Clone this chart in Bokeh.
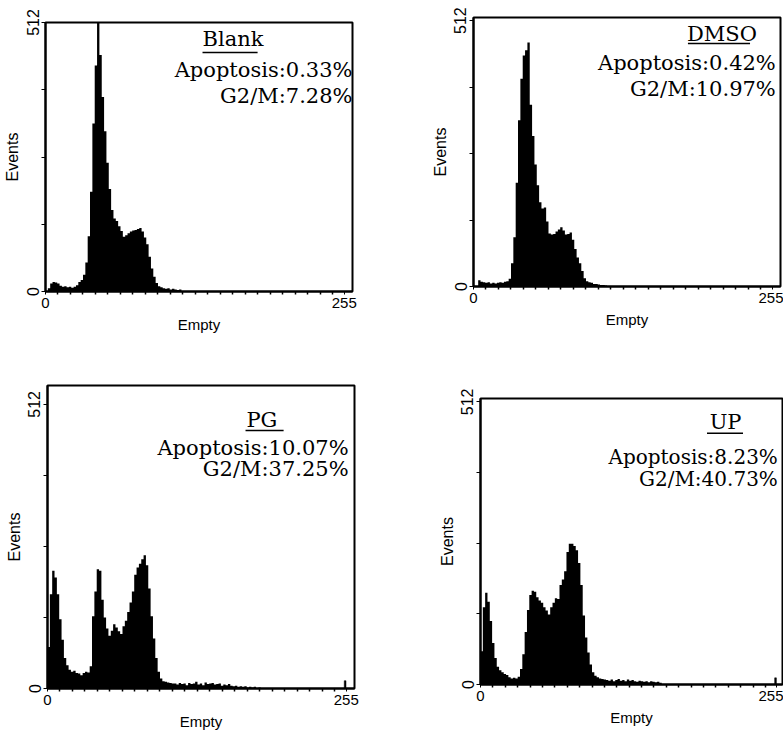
from bokeh.plotting import figure
from bokeh.models import Range1d, FixedTicker, Label
from bokeh.layouts import column, row
from bokeh.embed import file_html
from bokeh.resources import INLINE

# ---- data: event counts per 2-channel bin, starting at channel 0 ----
blank_counts = [0, 6, 15, 18, 17, 15, 11, 9, 10, 8, 9, 7, 9, 12, 18, 22, 32, 55, 105, 190,
                320, 430, 530, 450, 370, 305, 245, 195, 155, 139, 134, 124, 115, 104, 107, 111,
                114, 116, 117, 119, 121, 114, 103, 90, 66, 44, 28, 16, 10, 8, 6, 5, 6, 4, 5, 4, 3, 4]
dmso_counts = [0, 0, 12, 9, 8, 7, 8, 6, 7, 6, 7, 8, 7, 9, 10, 15, 45, 95, 200, 320,
               400, 445, 455, 470, 350, 290, 235, 195, 162, 150, 152, 125, 102, 100, 101, 106,
               110, 114, 108, 100, 101, 104, 90, 72, 56, 45, 30, 16, 10, 8, 7, 5, 5, 4, 3, 3, 2]
pg_counts = [75, 170, 212, 200, 170, 125, 88, 55, 42, 34, 30, 32, 28, 27, 24, 28, 30, 29, 40, 130,
             175, 215, 212, 160, 128, 108, 95, 104, 116, 110, 103, 98, 112, 122, 138, 155, 175, 205,
             218, 225, 233, 240, 222, 180, 130, 90, 55, 30, 18, 13, 12, 11, 10, 9,
             9, 7, 10, 8, 9, 6, 10, 8, 9, 12, 7, 9, 6, 11, 8, 9, 10, 7, 8, 9, 5, 7, 6, 8, 5, 4,
             5, 3, 4, 3, 4, 2, 3, 2, 3, 1, 2]
up_counts = [60, 140, 166, 150, 115, 75, 48, 32, 26, 22, 19, 17, 13, 11, 12, 11, 14, 28, 55, 95,
             135, 162, 170, 168, 158, 152, 148, 140, 134, 127, 140, 148, 156, 155, 180, 190, 205,
             240, 255, 255, 251, 243, 220, 180, 125, 85, 58, 36, 22, 16, 13, 11, 10, 9,
             8, 7, 9, 6, 8, 10, 7, 8, 6, 9, 7, 8, 6, 5, 7, 6, 5, 6, 4, 6, 5, 4, 5, 3]
# isolated events near the top channel
pg_edge_channels = [254]
pg_edge_counts = [14]
up_edge_channels = [254]
up_edge_counts = [12]

titles = ["Blank", "DMSO", "PG", "UP"]
apoptosis = ["Apoptosis:0.33%", "Apoptosis:0.42%", "Apoptosis:10.07%", "Apoptosis:8.23%"]
g2m = ["G2/M:7.28%", "G2/M:10.97%", "G2/M:37.25%", "G2/M:40.73%"]

x_ticks = [0, 255]
x_tick_labels = {0: "0", 255: "255"}
x_minor = [i * 256 / 24 for i in range(1, 24)]
y_ticks = [0, 512]
y_minor = [128, 256, 384]

SANS = "Liberation Sans"
SERIF = "DejaVu Serif"
BIN = 2


def panel(counts, edge_ch, edge_cnt, idx, width, height, borders, xmax, ymax,
          title_pos, underline, text_x, apo_y, g2m_y, text_size="21px"):
    left, right, top, bottom = borders
    p = figure(width=width, height=height, x_range=Range1d(0, xmax), y_range=Range1d(0, ymax),
               output_backend="svg", toolbar_location=None,
               min_border_left=left, min_border_right=right,
               min_border_top=top, min_border_bottom=bottom)
    edges = [BIN * i for i in range(len(counts) + 1)]
    p.varea_step(x=edges, y1=[0] * len(edges), y2=list(counts) + [0], step_mode="after",
                 fill_color="black")
    if edge_ch:
        p.vbar(x=edge_ch, top=edge_cnt, width=1.5, fill_color="black", line_color="black",
               line_width=0.5)
    p.grid.visible = False
    p.outline_line_color = "black"
    p.outline_line_width = 2
    p.background_fill_color = "white"
    p.border_fill_color = "white"

    xa = p.xaxis[0]
    xa.ticker = FixedTicker(ticks=x_ticks, minor_ticks=x_minor)
    xa.major_label_overrides = x_tick_labels
    xa.axis_label = "Empty"
    xa.axis_line_width = 2
    xa.major_tick_out = 3
    xa.major_tick_in = 0
    xa.minor_tick_out = 3
    xa.minor_tick_in = 0
    xa.minor_tick_line_width = 1.5
    xa.major_label_standoff = 3
    xa.axis_label_standoff = 5
    xa.major_label_text_font = SANS
    xa.major_label_text_font_size = "15px"
    xa.axis_label_text_font = SANS
    xa.axis_label_text_font_size = "15px"
    xa.axis_label_text_font_style = "normal"
    xa.major_label_text_color = "black"
    xa.axis_label_text_color = "black"

    ya = p.yaxis[0]
    ya.ticker = FixedTicker(ticks=y_ticks, minor_ticks=y_minor)
    ya.axis_label = "Events"
    ya.axis_line_width = 2
    ya.major_tick_out = 4
    ya.major_tick_in = 0
    ya.minor_tick_out = 4
    ya.minor_tick_in = 0
    ya.major_label_orientation = "vertical"
    ya.major_label_standoff = 3
    ya.axis_label_standoff = 3
    ya.major_label_text_font = SANS
    ya.major_label_text_font_size = "16px"
    ya.axis_label_text_font = SANS
    ya.axis_label_text_font_size = "16px"
    ya.axis_label_text_font_style = "normal"
    ya.major_label_text_color = "black"
    ya.axis_label_text_color = "black"

    p.add_layout(Label(x=title_pos[0], y=title_pos[1], text=titles[idx], text_align="center",
                       text_baseline="middle", text_font=SERIF, text_font_size="21px",
                       text_color="black"))
    p.segment(x0=[underline[0]], y0=[underline[2]], x1=[underline[1]], y1=[underline[2]],
              line_color="black", line_width=1.5)
    p.add_layout(Label(x=text_x, y=apo_y, text=apoptosis[idx], text_align="right",
                       text_baseline="middle", text_font=SERIF, text_font_size=text_size,
                       text_color="black"))
    p.add_layout(Label(x=text_x, y=g2m_y, text=g2m[idx], text_align="right",
                       text_baseline="middle", text_font=SERIF, text_font_size=text_size,
                       text_color="black"))
    return p


p1 = panel(blank_counts, None, None, 0, 400, 356, (45, 48, 22, 65), 262, 512,
           (160, 481), (134, 181, 455), 262, 422, 373)
p2 = panel(dmso_counts, None, None, 1, 383, 356, (73, 3, 17, 70), 262, 518,
           (212, 487), (183, 236, 468), 258, 431, 381)
p3 = panel(pg_counts, pg_edge_channels, pg_edge_counts, 2, 400, 381, (47, 46, 29, 49), 262, 546,
           (183, 483), (169, 201.5, 465), 257, 433, 395)
p4 = panel(up_counts, up_edge_channels, up_edge_counts, 3, 383, 381, (80, 1, 42, 53), 260, 518,
           (211, 475), (195, 226, 455), 256, 412, 373, "20px")

layout = column(row(column(p1), column(p2)), row(column(p3), column(p4)))
open("out.html", "w").write(file_html(layout, INLINE))
